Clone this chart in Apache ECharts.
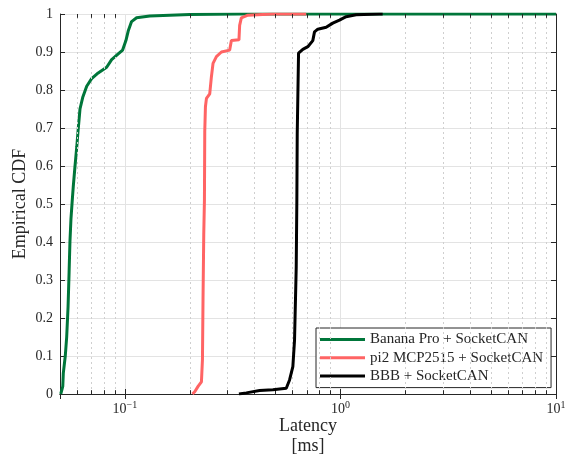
<!DOCTYPE html>
<html>
<head>
<meta charset="utf-8">
<script src="https://cdn.jsdelivr.net/npm/echarts@6/dist/echarts.min.js"></script>
<style>
html,body{margin:0;padding:0;background:#fff;overflow:hidden;}
#chart{position:absolute;left:0;top:0;width:566px;height:457px;}
</style>
</head>
<body>
<div id="chart"></div>
<script>
// ---- data (latency in ms, empirical CDF) ----
var seriesNames = ['Banana Pro + SocketCAN', 'pi2 MCP2515 + SocketCAN', 'BBB + SocketCAN'];
var seriesColors = ['#00763a', '#ff6464', '#000000'];

var bananaX = [0.0504, 0.0515, 0.0518, 0.0529, 0.0537, 0.0545, 0.0551, 0.0556, 0.0562, 0.0570, 0.0576, 0.0587, 0.0598, 0.0608, 0.0619, 0.0637, 0.0665, 0.0701, 0.0752, 0.0823, 0.0868, 0.0931, 0.0976, 0.1011, 0.1036, 0.1074, 0.1133, 0.1305, 0.2, 0.34, 10];
var bananaY = [0, 0.02, 0.055, 0.10, 0.15, 0.23, 0.32, 0.40, 0.46, 0.51, 0.545, 0.60, 0.65, 0.70, 0.75, 0.78, 0.81, 0.83, 0.845, 0.86, 0.88, 0.895, 0.905, 0.93, 0.955, 0.98, 0.99, 0.995, 0.999, 1, 1];

var piX = [0.2058, 0.2109, 0.2185, 0.2265, 0.2290, 0.2304, 0.2322, 0.2339, 0.2347, 0.2364, 0.2390, 0.2475, 0.2520, 0.2564, 0.2658, 0.2804, 0.3063, 0.3119, 0.3382, 0.3407, 0.3469, 0.3723, 0.4843, 0.6937];
var piY = [0, 0.006, 0.02, 0.032, 0.09, 0.25, 0.42, 0.51, 0.69, 0.756, 0.778, 0.79, 0.835, 0.87, 0.888, 0.90, 0.905, 0.93, 0.932, 0.97, 0.99, 0.997, 1, 1];

var bbbX = [0.3382, 0.3660, 0.4217, 0.4860, 0.5606, 0.5807, 0.6015, 0.6124, 0.6236, 0.6277, 0.6303, 0.6392, 0.6691, 0.7057, 0.7443, 0.7580, 0.7850, 0.8587, 0.9213, 0.9894, 1.0627, 1.1822, 1.516, 1.570];
var bbbY = [0, 0.003, 0.009, 0.011, 0.015, 0.037, 0.072, 0.142, 0.335, 0.51, 0.686, 0.897, 0.907, 0.914, 0.93, 0.953, 0.96, 0.965, 0.976, 0.984, 0.993, 0.998, 1, 1];

// axis ticks
var xMin = 0.05, xMax = 10;
var minorTickValues = [0.06, 0.07, 0.08, 0.09, 0.2, 0.3, 0.4, 0.5, 0.6, 0.7, 0.8, 0.9, 2, 3, 4, 5, 6, 7, 8, 9];
var yTickLabels = ['0', '0.1', '0.2', '0.3', '0.4', '0.5', '0.6', '0.7', '0.8', '0.9', '1'];

function zip(xs, ys) { return xs.map(function (x, i) { return [x, ys[i]]; }); }

var FONT = '"Liberation Serif", "Times New Roman", serif';
var TXT = '#262626';
var AXC = '#262626';

var minorGrid = minorTickValues.map(function (v) { return { xAxis: v }; });
var minorTicks = [];
minorTickValues.forEach(function (v) {
  minorTicks.push([{ coord: [v, 0] }, { coord: [v, 0.01] }]);
  minorTicks.push([{ coord: [v, 1] }, { coord: [v, 0.99] }]);
});

function xLabel(v) {
  var e = Math.log10(v);
  var r = Math.round(e);
  if (Math.abs(e - r) > 1e-6) return '';
  return '{b|10}{s|' + (r < 0 ? '\u2212' + (-r) : r) + '}';
}

var dataSeries = [bananaX, piX, bbbX].map(function (xs, i) {
  var ys = [bananaY, piY, bbbY][i];
  return {
    name: seriesNames[i],
    type: 'line',
    data: zip(xs, ys),
    showSymbol: false,
    symbol: 'none',
    color: seriesColors[i],
    lineStyle: { width: 3, color: seriesColors[i] },
    z: 3 + i,
    animation: false
  };
});

var chart = echarts.init(document.getElementById('chart'), null, { renderer: 'canvas', width: 566, height: 457 });
chart.setOption({
  backgroundColor: '#ffffff',
  animation: false,
  textStyle: { fontFamily: FONT, color: TXT },
  grid: { left: 60, right: 10, top: 14, bottom: 63, containLabel: false, outerBoundsMode: 'none' },
  legend: {
    data: seriesNames.map(function (n) { return { name: n, icon: 'rect' }; }),
    orient: 'vertical',
    left: 316,
    top: 328,
    padding: [4, 8, 4, 4],
    itemWidth: 45,
    itemHeight: 3,
    itemGap: 3.3,
    backgroundColor: '#ffffff',
    borderColor: AXC,
    borderWidth: 1,
    borderRadius: 0,
    textStyle: { fontFamily: FONT, fontSize: 15, color: TXT, lineHeight: 14 }
  },
  xAxis: [{
    type: 'log',
    logBase: 10,
    min: xMin,
    max: xMax,
    position: 'bottom',
    name: 'Latency\n[ms]',
    nameLocation: 'middle',
    nameGap: 22,
    nameMoveOverlap: false,
    nameTextStyle: { fontFamily: FONT, fontSize: 18, color: TXT, lineHeight: 20 },
    axisLine: { show: true, lineStyle: { color: AXC, width: 1 } },
    axisTick: { show: true, inside: true, length: 5, lineStyle: { color: AXC } },
    axisLabel: {
      margin: 6,
      formatter: xLabel,
      showMinLabel: true,
      rich: {
        b: { fontFamily: FONT, fontSize: 14, color: TXT, lineHeight: 18 },
        s: { fontFamily: FONT, fontSize: 10, color: TXT, lineHeight: 10, verticalAlign: 'top' }
      }
    },
    splitLine: { show: true, lineStyle: { color: '#e3e3e3', width: 1 } }
  }, {
    type: 'log',
    logBase: 10,
    min: xMin,
    max: xMax,
    position: 'top',
    axisLine: { show: true, lineStyle: { color: AXC, width: 1 } },
    axisTick: { show: true, inside: true, length: 5, lineStyle: { color: AXC } },
    axisLabel: { show: false },
    splitLine: { show: false }
  }],
  yAxis: [{
    type: 'value',
    min: 0,
    max: 1,
    interval: 0.1,
    position: 'left',
    name: 'Empirical CDF',
    nameLocation: 'middle',
    nameGap: 31,
    nameMoveOverlap: false,
    nameTextStyle: { fontFamily: FONT, fontSize: 18, color: TXT },
    axisLine: { show: true, lineStyle: { color: AXC, width: 1 } },
    axisTick: { show: true, inside: true, length: 5, lineStyle: { color: AXC } },
    axisLabel: {
      margin: 7,
      fontFamily: FONT, fontSize: 14, color: TXT,
      formatter: function (v) { return yTickLabels[Math.round(v * 10)]; }
    },
    splitLine: { show: true, lineStyle: { color: '#e3e3e3', width: 1 } }
  }, {
    type: 'value',
    min: 0,
    max: 1,
    interval: 0.1,
    position: 'right',
    axisLine: { show: true, lineStyle: { color: AXC, width: 1 } },
    axisTick: { show: true, inside: true, length: 5, lineStyle: { color: AXC } },
    axisLabel: { show: false },
    splitLine: { show: false }
  }],
  series: [{
    type: 'line',
    data: [],
    z: 1,
    silent: true,
    markLine: {
      silent: true,
      symbol: ['none', 'none'],
      label: { show: false },
      animation: false,
      lineStyle: { color: '#cfcfcf', width: 1, type: [2, 3] },
      data: minorGrid
    }
  }, {
    type: 'line',
    data: [],
    z: 2,
    silent: true,
    markLine: {
      silent: true,
      symbol: ['none', 'none'],
      label: { show: false },
      animation: false,
      lineStyle: { color: AXC, width: 1, type: 'solid' },
      data: minorTicks
    }
  }].concat(dataSeries)
});
</script>
</body>
</html>
